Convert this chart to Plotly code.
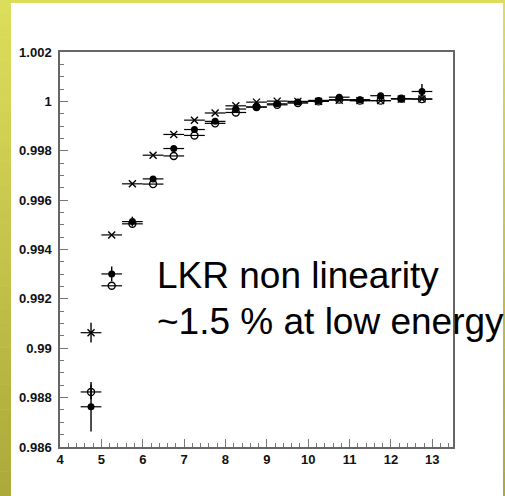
import plotly.graph_objects as go

# Energy bins (GeV): centres and half-widths
energy = [4.75, 5.25, 5.75, 6.25, 6.75, 7.25, 7.75, 8.25, 8.75,
          9.25, 9.75, 10.25, 10.75, 11.25, 11.75, 12.25, 12.75]
half_width = [0.25] * len(energy)

# Response ratio, filled circles
filled_vals = [0.98763, 0.99301, 0.99513, 0.99686, 0.99809, 0.99886, 0.99919, 0.99969, 0.99977,
               0.99990, 0.99997, 1.00004, 1.00017, 1.00007, 1.00023, 1.00011, 1.00040]
filled_err = [0.0010, 0.0003, 0.0002, 0.0001, 0.0001, 0.0001, 0.0001, 0.00005, 0.00005,
              0.00005, 0.00005, 0.00005, 0.00005, 0.00005, 0.00005, 0.00005, 0.0003]

# Response ratio, open circles
open_vals = [0.98823, 0.99253, 0.99504, 0.99665, 0.99779, 0.99862, 0.99911, 0.99955, 0.99977,
             0.99986, 0.99993, 1.00000, 1.00007, 1.00003, 1.00003, 1.00011, 1.00009]
open_err = [0.0003, 0.0, 0.0, 0.0, 0.0, 0.0, 0.0, 0.0, 0.0,
            0.0, 0.0, 0.0, 0.0, 0.0, 0.0, 0.0, 0.0]

# Response ratio, crosses
cross_vals = [0.99063, 0.99459, 0.99666, 0.99782, 0.99866, 0.99924, 0.99953, 0.99982, 0.99997,
              1.00001, 1.00000, 1.00000, 1.00005, 1.00003, 1.00003, 1.00010, 1.00010]
cross_err = [0.0004, 0.0, 0.0, 0.0, 0.0, 0.0, 0.0, 0.0, 0.0,
             0.0, 0.0, 0.0, 0.0, 0.0, 0.0, 0.0, 0.0]

x_ticks = list(range(4, 14))
y_ticks = [0.986, 0.988, 0.99, 0.992, 0.994, 0.996, 0.998, 1.0, 1.002]
y_tick_text = ["0.986", "0.988", "0.99", "0.992", "0.994", "0.996", "0.998", "1", "1.002"]

caption_lines = ["LKR non linearity", "~1.5 % at low energy"]

W, H = 505, 496
L, R, T, B = 60, 52, 52, 49
PW, PH = W - L - R, H - T - B


def px_to_paper_x(px):
    return (px - L) / PW


def px_to_paper_y(py):
    return (H - B - py) / PH


def err_kwargs(errs):
    return dict(type="data", array=errs, visible=True, color="black",
                thickness=1.4, width=0)


fig = go.Figure()

fig.add_trace(go.Scatter(
    x=energy, y=cross_vals, mode="markers",
    marker=dict(symbol="x-thin", size=7, color="black",
                line=dict(color="black", width=1.4)),
    error_x=dict(type="data", array=half_width, color="black", thickness=1.2, width=0),
    error_y=err_kwargs(cross_err),
))
fig.add_trace(go.Scatter(
    x=energy, y=open_vals, mode="markers",
    marker=dict(symbol="circle-open", size=7, color="black",
                line=dict(color="black", width=1.4)),
    error_x=dict(type="data", array=half_width, color="black", thickness=1.2, width=0),
    error_y=err_kwargs(open_err),
))
fig.add_trace(go.Scatter(
    x=energy, y=filled_vals, mode="markers",
    marker=dict(symbol="circle", size=7, color="black"),
    error_x=dict(type="data", array=half_width, color="black", thickness=1.2, width=0),
    error_y=err_kwargs(filled_err),
))

# Slide frame: yellow gradient strip on the left, thin strips on top and right
shapes = []
top_col = (221, 221, 92)
bot_col = (172, 170, 58)
n_bands = 40
for i in range(n_bands):
    f = i / (n_bands - 1)
    c = tuple(int(round(top_col[k] + (bot_col[k] - top_col[k]) * f)) for k in range(3))
    col = "rgb(%d,%d,%d)" % c
    y0 = H * i / n_bands
    y1 = H * (i + 1) / n_bands + 0.5
    for x0, x1 in ((0, 11), (503, 506)):
        shapes.append(dict(type="rect", xref="paper", yref="paper",
                           x0=px_to_paper_x(x0), x1=px_to_paper_x(x1),
                           y0=px_to_paper_y(y1), y1=px_to_paper_y(y0),
                           fillcolor=col, line=dict(width=0), layer="above"))
shapes.append(dict(type="rect", xref="paper", yref="paper",
                   x0=px_to_paper_x(0), x1=px_to_paper_x(506),
                   y0=px_to_paper_y(3), y1=px_to_paper_y(-1),
                   fillcolor="rgb(221,221,92)", line=dict(width=0), layer="above"))

annotations = [
    dict(text=caption_lines[0], xref="paper", yref="paper",
         x=px_to_paper_x(155), y=px_to_paper_y(275), xanchor="left", yanchor="middle",
         showarrow=False, font=dict(family="Liberation Sans", size=37, color="black")),
    dict(text=caption_lines[1], xref="paper", yref="paper",
         x=px_to_paper_x(155), y=px_to_paper_y(321), xanchor="left", yanchor="middle",
         showarrow=False, font=dict(family="Liberation Sans", size=37, color="black")),
]

axis_common = dict(
    showgrid=False, zeroline=False, showline=True, linecolor="#666666", linewidth=1.5,
    mirror=True, ticks="inside", tickcolor="#777777", tickwidth=1, ticklen=8,
    tickfont=dict(family="Liberation Sans", size=13, color="#111111", weight="bold"),
)

fig.update_layout(
    width=W, height=H,
    margin=dict(l=L, r=R, t=T, b=B, pad=0),
    paper_bgcolor="white", plot_bgcolor="white",
    showlegend=False,
    shapes=shapes,
    annotations=annotations,
    xaxis=dict(range=[4, 13.5], tickvals=x_ticks,
               minor=dict(dtick=0.2, tick0=4, ticks="inside", ticklen=4, tickcolor="#777777"),
               **axis_common),
    yaxis=dict(range=[0.986, 1.002], tickvals=y_ticks, ticktext=y_tick_text,
               ticklabelstandoff=4,
               minor=dict(dtick=0.0005, tick0=0.986, ticks="inside", ticklen=4, tickcolor="#777777"),
               **axis_common),
)

fig.write_html("out.html")
